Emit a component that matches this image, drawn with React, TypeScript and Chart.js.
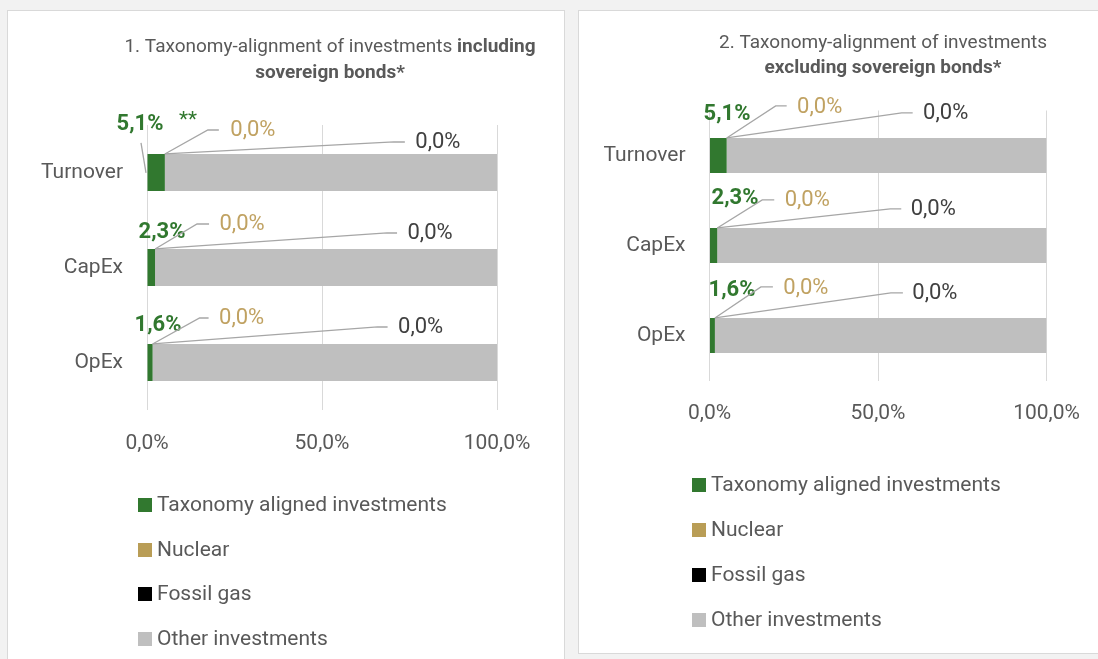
import React, { useEffect, useRef } from "react";
import { Chart, registerables } from "chart.js";

Chart.register(...registerables);

// ---------- DATA ----------
const categories = ["Turnover", "CapEx", "OpEx"];
const seriesNames = ["Taxonomy aligned investments", "Nuclear", "Fossil gas", "Other investments"];

// 1. including sovereign bonds
const incAligned = [5.1, 2.3, 1.6];
const incNuclear = [0.0, 0.0, 0.0];
const incFossil = [0.0, 0.0, 0.0];
const incOther = [94.9, 97.7, 98.4];

// 2. excluding sovereign bonds
const excAligned = [5.1, 2.3, 1.6];
const excNuclear = [0.0, 0.0, 0.0];
const excFossil = [0.0, 0.0, 0.0];
const excOther = [94.9, 97.7, 98.4];

const xTickValues = [0, 50, 100];

// ---------- STYLE ----------
const FONT = "Roboto, 'Noto Sans', sans-serif";
const GREEN = "#31782f";
const GOLD = "#b99d56";
const GOLD_TEXT = "#c0a262";
const BLACK = "#000000";
const GREY = "#bfbfbf";
const TEXT = "#595959";
const DARK = "#404040";
const LEADER = "#a6a6a6";
const seriesColors = [GREEN, GOLD, BLACK, GREY];

const fmt = (v: number) => v.toFixed(1).replace(".", ",") + "%";

type Row = { lx: number; ly: number; k1x: number; k1y: number; k2x: number };
type GreenRow = { dx: number; dy: number; leader?: [number, number, number, number] };
type Layout = {
  w: number;
  h: number;
  chartLeft: number;
  chartRight: number;
  chartTop: number;
  chartBottom: number;
  titleX: number;
  titleY: [number, number];
  title: { t: string; b: boolean }[][];
  legendSqX: number;
  legendTextX: number;
  legendY: number[];
  green: GreenRow[];
  gold: Row[];
  dark: Row[];
  stars?: { dx: number; dy: number };
};

const layout1: Layout = {
  w: 556,
  h: 660,
  chartLeft: 139,
  chartRight: 489,
  chartTop: 114,
  chartBottom: 399,
  titleX: 322,
  titleY: [36, 62],
  title: [
    [
      { t: "1. Taxonomy-alignment of investments ", b: false },
      { t: "including", b: true },
    ],
    [{ t: "sovereign bonds*", b: true }],
  ],
  legendSqX: 130,
  legendTextX: 149,
  legendY: [494, 539, 583, 628],
  green: [
    { dx: -7, dy: -29, leader: [-6, -11, -1, 19] },
    { dx: 15, dy: -16 },
    { dx: 11, dy: -18 },
  ],
  gold: [
    { lx: 88, ly: -23, k1x: 43, k1y: -24, k2x: 54 },
    { lx: 87, ly: -24, k1x: 42, k1y: -25, k2x: 54 },
    { lx: 89, ly: -25, k1x: 47, k1y: -26, k2x: 56 },
  ],
  dark: [
    { lx: 273, ly: -11, k1x: 229, k1y: -12, k2x: 240 },
    { lx: 275, ly: -15, k1x: 232, k1y: -16, k2x: 242 },
    { lx: 268, ly: -16, k1x: 225, k1y: -17, k2x: 235 },
  ],
  stars: { dx: 41, dy: -33 },
};

const layout2: Layout = {
  w: 528,
  h: 642,
  chartLeft: 130.5,
  chartRight: 467.5,
  chartTop: 99.5,
  chartBottom: 369.5,
  titleX: 304,
  titleY: [32, 57],
  title: [
    [{ t: "2. Taxonomy-alignment of investments", b: false }],
    [{ t: "excluding sovereign bonds*", b: true }],
  ],
  legendSqX: 113,
  legendTextX: 132,
  legendY: [474, 519, 564, 609],
  green: [{ dx: 17.5, dy: -23 }, { dx: 25.5, dy: -29 }, { dx: 22.5, dy: -27 }],
  gold: [
    { lx: 93, ly: -30, k1x: 49, k1y: -32, k2x: 60 },
    { lx: 90, ly: -27, k1x: 45, k1y: -28, k2x: 57 },
    { lx: 91, ly: -29, k1x: 46, k1y: -31, k2x: 58 },
  ],
  dark: [
    { lx: 219, ly: -24, k1x: 175, k1y: -25, k2x: 186 },
    { lx: 216, ly: -18, k1x: 173, k1y: -19, k2x: 184 },
    { lx: 220, ly: -24, k1x: 176, k1y: -25, k2x: 188 },
  ],
};

const X_AXIS_H = 60;

function makePlugin(L: Layout, aligned: number[], nuclear: number[], fossil: number[]) {
  return {
    id: "callouts",
    afterDatasetsDraw(chart: any) {
      const ctx: CanvasRenderingContext2D = chart.ctx;
      const xs = chart.scales.x;
      const meta0 = chart.getDatasetMeta(0);
      const x0 = xs.getPixelForValue(0);
      ctx.save();
      ctx.textAlign = "center";
      ctx.textBaseline = "middle";
      ctx.lineWidth = 1.3;
      ctx.strokeStyle = LEADER;
      categories.forEach((_, i) => {
        const el = meta0.data[i];
        const top = el.y - el.height / 2;
        // aligned label
        const g = L.green[i];
        if (g.leader) {
          ctx.beginPath();
          ctx.moveTo(x0 + g.leader[0], top + g.leader[1]);
          ctx.lineTo(x0 + g.leader[2], top + g.leader[3]);
          ctx.stroke();
        }
        ctx.font = `bold 22px ${FONT}`;
        ctx.fillStyle = GREEN;
        ctx.fillText(fmt(aligned[i]), x0 + g.dx, top + g.dy);
        if (i === 0 && L.stars) {
          ctx.font = `21px ${FONT}`;
          ctx.fillText("**", x0 + L.stars.dx, top + L.stars.dy);
        }
        // nuclear
        const nx = xs.getPixelForValue(aligned[i] + nuclear[i]);
        const gr = L.gold[i];
        ctx.beginPath();
        ctx.moveTo(nx, top);
        ctx.lineTo(nx + gr.k1x, top + gr.k1y);
        ctx.lineTo(nx + gr.k2x, top + gr.k1y);
        ctx.stroke();
        ctx.font = `22px ${FONT}`;
        ctx.fillStyle = GOLD_TEXT;
        ctx.fillText(fmt(nuclear[i]), nx + gr.lx, top + gr.ly);
        // fossil
        const fx = xs.getPixelForValue(aligned[i] + nuclear[i] + fossil[i]);
        const dr = L.dark[i];
        ctx.beginPath();
        ctx.moveTo(fx, top);
        ctx.lineTo(fx + dr.k1x, top + dr.k1y);
        ctx.lineTo(fx + dr.k2x, top + dr.k1y);
        ctx.stroke();
        ctx.fillStyle = DARK;
        ctx.fillText(fmt(fossil[i]), fx + dr.lx, top + dr.ly);
      });
      ctx.restore();
    },
    afterDraw(chart: any) {
      const ctx: CanvasRenderingContext2D = chart.ctx;
      ctx.save();
      // title
      ctx.textBaseline = "middle";
      ctx.fillStyle = TEXT;
      L.title.forEach((line, li) => {
        const widths = line.map((p) => {
          ctx.font = `${p.b ? "bold " : ""}19px ${FONT}`;
          return ctx.measureText(p.t).width;
        });
        const total = widths.reduce((a, b) => a + b, 0);
        let x = L.titleX - total / 2;
        ctx.textAlign = "left";
        line.forEach((p, pi) => {
          ctx.font = `${p.b ? "bold " : ""}19px ${FONT}`;
          ctx.fillText(p.t, x, L.titleY[li]);
          x += widths[pi];
        });
      });
      // legend
      ctx.font = `21px ${FONT}`;
      seriesNames.forEach((name, i) => {
        const y = L.legendY[i];
        ctx.fillStyle = seriesColors[i];
        ctx.fillRect(L.legendSqX, y - 7, 14, 14);
        ctx.fillStyle = TEXT;
        ctx.textAlign = "left";
        ctx.fillText(name, L.legendTextX, y + 1);
      });
      ctx.restore();
    },
  };
}

function Panel(props: {
  L: Layout;
  aligned: number[];
  nuclear: number[];
  fossil: number[];
  other: number[];
}) {
  const ref = useRef<HTMLCanvasElement>(null);
  const { L, aligned, nuclear, fossil, other } = props;
  useEffect(() => {
    if (!ref.current) return;
    const values = [aligned, nuclear, fossil, other];
    const chart = new Chart(ref.current, {
      type: "bar",
      data: {
        labels: categories,
        datasets: seriesNames.map((name, i) => ({
          label: name,
          data: values[i],
          backgroundColor: seriesColors[i],
          borderWidth: 0,
          barPercentage: 0.39,
          categoryPercentage: 1,
        })),
      },
      options: {
        indexAxis: "y",
        responsive: false,
        animation: false,
        events: [],
        layout: {
          padding: {
            left: 0,
            top: L.chartTop,
            right: L.w - L.chartRight,
            bottom: L.h - L.chartBottom - X_AXIS_H,
          },
        },
        plugins: {
          legend: { display: false },
          title: { display: false },
          tooltip: { enabled: false },
        },
        scales: {
          x: {
            stacked: true,
            min: 0,
            max: 100,
            afterBuildTicks: (scale: any) => {
              scale.ticks = xTickValues.map((v) => ({ value: v }));
            },
            afterFit: (scale: any) => {
              scale.height = X_AXIS_H;
            },
            grid: { color: "#d9d9d9", lineWidth: 1, drawTicks: false },
            border: { display: false },
            ticks: {
              padding: 21,
              color: TEXT,
              font: { family: FONT, size: 21 },
              callback: (v: any) => fmt(Number(v)),
              maxRotation: 0,
            },
          },
          y: {
            stacked: true,
            afterFit: (scale: any) => {
              scale.width = L.chartLeft;
            },
            grid: { display: false, drawTicks: false },
            border: { display: false },
            ticks: {
              padding: 24,
              color: TEXT,
              font: { family: FONT, size: 21 },
            },
          },
        },
      },
      plugins: [makePlugin(L, aligned, nuclear, fossil)],
    } as any);
    return () => chart.destroy();
  }, [L, aligned, nuclear, fossil, other]);
  return <canvas ref={ref} width={L.w} height={L.h} style={{ display: "block", width: L.w, height: L.h }} />;
}

export default function App() {
  return (
    <div
      style={{
        position: "fixed",
        left: 0,
        top: 0,
        width: 1098,
        height: 659,
        background: "#f2f2f2",
        overflow: "hidden",
      }}
    >
      <div
        style={{
          position: "absolute",
          left: 7,
          top: 10,
          width: 556,
          height: 662,
          border: "1px solid #d9d9d9",
          background: "#ffffff",
        }}
      >
        <Panel L={layout1} aligned={incAligned} nuclear={incNuclear} fossil={incFossil} other={incOther} />
      </div>
      <div
        style={{
          position: "absolute",
          left: 578,
          top: 10,
          width: 530,
          height: 642,
          border: "1px solid #d9d9d9",
          background: "#ffffff",
        }}
      >
        <Panel L={layout2} aligned={excAligned} nuclear={excNuclear} fossil={excFossil} other={excOther} />
      </div>
    </div>
  );
}
